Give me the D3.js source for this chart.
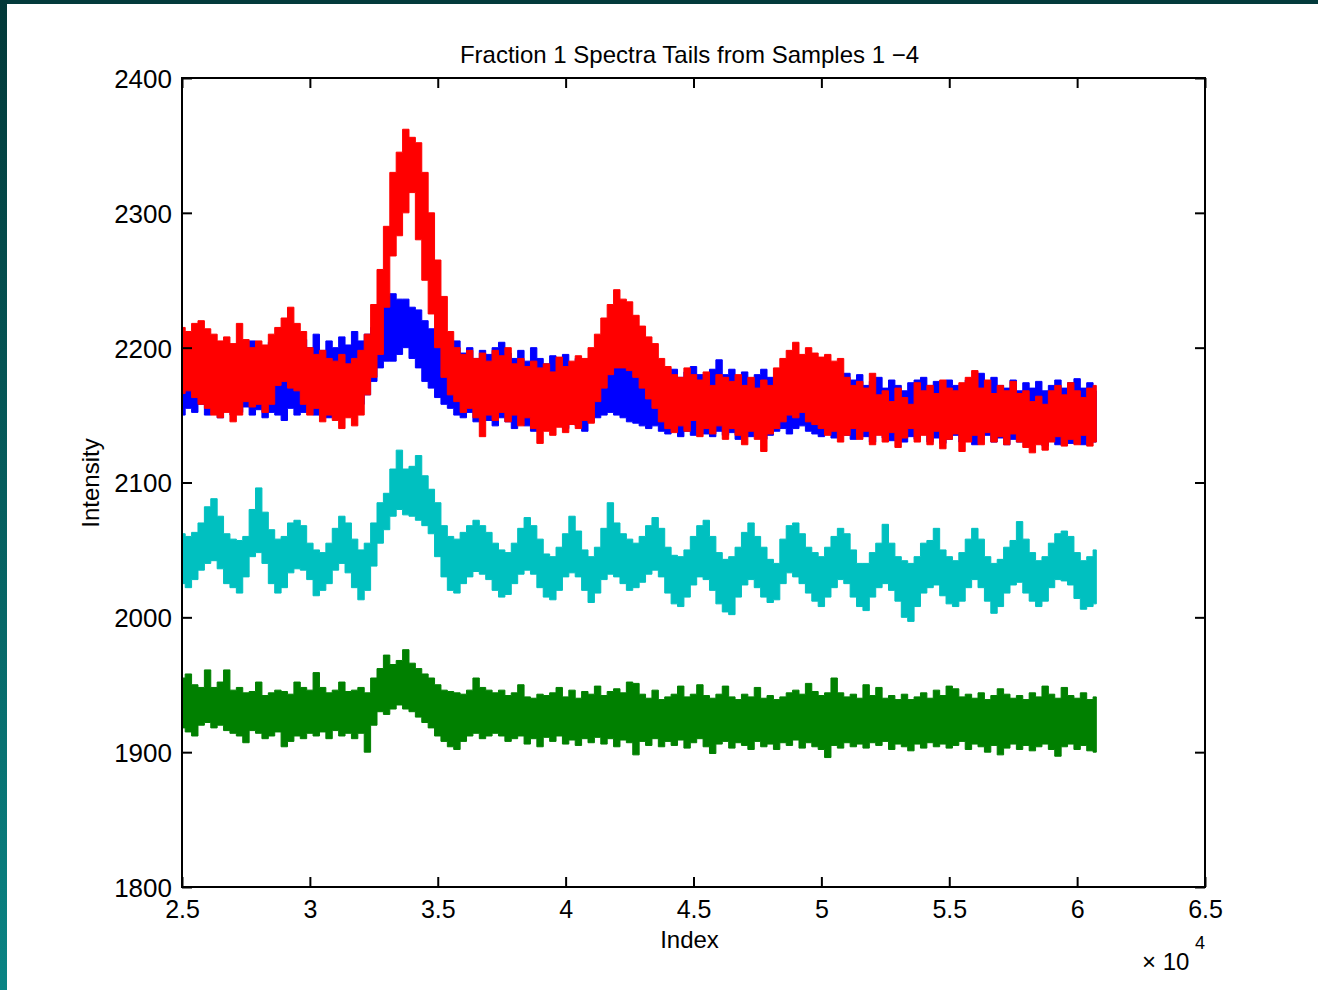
<!DOCTYPE html>
<html><head><meta charset="utf-8">
<script src="https://cdn.jsdelivr.net/npm/d3@7"></script>
<style>body{margin:0;background:#fff;overflow:hidden}svg{display:block}</style>
</head><body>
<svg id="c" width="1318" height="990"></svg>
<script>
// ---------- data ----------
const titleText = "Fraction 1 Spectra Tails from Samples 1 \u22124";
const xLabel = "Index";
const yLabel = "Intensity";
const xTickLabels = [2.5, 3, 3.5, 4, 4.5, 5, 5.5, 6, 6.5];   // x 10^4
const yTickLabels = [1800, 1900, 2000, 2100, 2200, 2300, 2400];
const indexStart = 25000, indexStep = 250;   // sampling grid of the envelope values

// Sample 1 (blue) min / max envelope
const blueLo = [2150,2155,2152,2158,2150,2156,2148,2155,2150,2152, 2156,2150,2154,2148,2152,2150,2146,2155,2150,2152,
 2156,2150,2154,2148,2152,2150,2156,2152,2158,2165, 2175,2185,2190,2190,2195,2200,2192,2185,2175,2170,
 2163,2158,2155,2150,2148,2152,2145,2150,2146,2142, 2148,2145,2140,2146,2142,2138,2144,2140,2146,2142,
 2140,2145,2142,2138,2145,2148,2150,2152,2150,2148, 2145,2144,2142,2140,2142,2138,2136,2140,2134,2138,
 2135,2140,2136,2134,2138,2135,2137,2132,2136,2134, 2138,2132,2135,2138,2140,2136,2140,2142,2138,2136,
 2134,2136,2133,2138,2135,2132,2136,2134,2130,2136, 2133,2131,2135,2130,2134,2132,2136,2130,2133,2129,
 2132,2135,2130,2133,2128,2132,2135,2130,2133,2128, 2132,2130,2134,2129,2132,2127,2131,2128,2132,2129,
 2133,2128,2131,2130];
const blueHi = [2195,2200,2192,2205,2198,2202,2195,2200,2196,2203, 2198,2205,2200,2196,2204,2198,2202,2200,2196,2206,
 2200,2210,2198,2205,2200,2208,2202,2212,2205,2210, 2215,2232,2238,2240,2236,2236,2230,2228,2220,2214,
 2205,2198,2195,2205,2196,2200,2192,2198,2195,2200, 2204,2196,2192,2198,2190,2200,2192,2188,2194,2190,
 2195,2188,2192,2186,2190,2185,2190,2188,2192,2185, 2188,2182,2186,2180,2178,2182,2180,2184,2178,2182,
 2186,2180,2178,2184,2191,2180,2184,2178,2182,2176, 2180,2184,2178,2176,2182,2178,2180,2176,2182,2175,
 2180,2176,2174,2178,2181,2176,2180,2172,2175,2178, 2170,2176,2172,2168,2174,2176,2178,2172,2175,2170,
 2176,2172,2168,2176,2172,2181,2174,2178,2172,2170, 2176,2168,2174,2170,2175,2168,2172,2176,2170,2174,
 2177,2170,2174,2168];

// Sample 2 (green)
const greenLo = [1918,1915,1912,1920,1922,1918,1920,1916,1914,1912, 1907,1916,1914,1910,1912,1915,1904,1908,1912,1910,
 1914,1912,1915,1910,1916,1912,1914,1910,1914,1900, 1920,1930,1928,1932,1935,1932,1930,1926,1922,1918,
 1912,1908,1904,1902,1908,1912,1914,1910,1912,1914, 1912,1908,1910,1912,1906,1910,1904,1911,1908,1912,
 1906,1909,1905,1910,1907,1911,1906,1910,1904,1909, 1907,1898,1908,1905,1910,1904,1908,1905,1909,1903,
 1907,1910,1904,1899,1906,1908,1903,1907,1905,1902, 1908,1904,1906,1902,1907,1905,1909,1903,1907,1904,
 1902,1896,1905,1903,1907,1904,1906,1903,1907,1905, 1908,1902,1906,1904,1901,1906,1903,1907,1904,1906,
 1903,1905,1908,1902,1906,1904,1900,1905,1898,1903, 1906,1902,1905,1901,1904,1906,1902,1897,1904,1906,
 1902,1905,1901,1900];
const greenHi = [1955,1958,1950,1948,1961,1948,1952,1961,1946,1948, 1944,1945,1952,1942,1944,1946,1945,1943,1952,1948,
 1946,1959,1948,1944,1946,1952,1945,1946,1948,1944, 1955,1962,1972,1965,1968,1976,1966,1962,1958,1955,
 1950,1946,1945,1944,1943,1946,1955,1948,1946,1944, 1946,1942,1944,1950,1941,1940,1943,1942,1944,1948,
 1941,1946,1940,1945,1943,1949,1942,1945,1947,1944, 1952,1951,1943,1940,1946,1939,1941,1943,1949,1941,
 1943,1950,1942,1940,1943,1949,1941,1939,1943,1941, 1948,1940,1942,1939,1941,1944,1946,1943,1951,1945,
 1942,1944,1955,1944,1941,1943,1940,1950,1942,1948, 1940,1942,1939,1943,1939,1941,1944,1940,1946,1942,
 1949,1947,1941,1943,1940,1944,1939,1942,1947,1943, 1940,1942,1939,1944,1941,1949,1943,1940,1948,1942,
 1940,1944,1939,1941];

// Sample 3 (red)
const redLo = [2166,2168,2163,2158,2155,2150,2148,2152,2145,2150, 2160,2156,2158,2152,2158,2172,2175,2170,2168,2158,
 2150,2155,2145,2150,2146,2140,2148,2142,2150,2165, 2178,2195,2230,2268,2283,2300,2315,2280,2250,2225,
 2200,2178,2165,2160,2152,2155,2148,2134,2150,2146, 2152,2145,2150,2142,2148,2140,2129,2138,2135,2141,
 2137,2143,2140,2146,2144,2160,2170,2180,2185,2185, 2183,2178,2170,2162,2155,2145,2140,2137,2142,2138,
 2146,2134,2140,2136,2142,2132,2140,2135,2128,2138, 2132,2123,2136,2140,2145,2150,2148,2152,2145,2143,
 2140,2135,2138,2130,2135,2140,2132,2138,2128,2135, 2130,2137,2126,2133,2140,2130,2135,2128,2138,2125,
 2132,2136,2123,2130,2135,2128,2137,2130,2134,2128, 2136,2130,2126,2122,2128,2124,2130,2134,2127,2132,
 2128,2135,2127,2130];
const redHi = [2215,2212,2218,2220,2214,2210,2205,2208,2203,2218, 2206,2200,2205,2202,2210,2215,2222,2230,2218,2212,
 2200,2195,2198,2192,2190,2195,2188,2192,2198,2210, 2232,2258,2290,2330,2345,2362,2356,2352,2330,2300,
 2265,2238,2212,2200,2195,2198,2192,2196,2190,2198, 2194,2200,2188,2192,2186,2190,2185,2188,2182,2193,
 2186,2190,2194,2192,2200,2210,2222,2232,2243,2236, 2234,2224,2216,2208,2203,2192,2186,2180,2178,2185,
 2180,2176,2182,2172,2180,2178,2175,2180,2172,2178, 2170,2176,2172,2185,2192,2198,2204,2195,2200,2196,
 2193,2195,2190,2192,2178,2172,2175,2170,2181,2165, 2168,2160,2170,2163,2158,2174,2168,2172,2166,2176,
 2170,2168,2174,2178,2183,2170,2176,2166,2172,2168, 2175,2166,2168,2160,2164,2158,2168,2172,2165,2174,
 2168,2163,2170,2172];

// Sample 4 (cyan)
const cyanLo = [2025,2022,2028,2035,2040,2042,2036,2025,2022,2018, 2030,2045,2048,2040,2025,2018,2022,2033,2036,2035,
 2028,2016,2020,2025,2035,2040,2033,2022,2013,2020, 2038,2055,2065,2075,2080,2076,2075,2072,2068,2062,
 2045,2030,2020,2018,2025,2030,2034,2032,2028,2020, 2015,2017,2025,2032,2035,2032,2022,2015,2013,2020,
 2030,2033,2030,2020,2011,2018,2028,2032,2030,2025, 2020,2022,2026,2032,2035,2030,2018,2010,2008,2015,
 2024,2030,2028,2020,2010,2004,2002,2015,2024,2028, 2022,2015,2011,2013,2025,2033,2030,2025,2018,2012,
 2008,2015,2022,2028,2025,2015,2008,2005,2015,2022, 2025,2020,2012,2000,1997,2008,2018,2022,2024,2016,
 2010,2008,2012,2022,2028,2022,2012,2003,2008,2018, 2024,2026,2018,2012,2008,2012,2022,2028,2027,2024,
 2014,2006,2008,2010];
const cyanHi = [2062,2060,2063,2070,2082,2088,2075,2062,2058,2057, 2060,2080,2096,2078,2065,2058,2060,2070,2072,2068,
 2055,2050,2048,2055,2066,2075,2070,2058,2050,2055, 2070,2085,2092,2110,2124,2110,2112,2120,2105,2095,
 2085,2068,2060,2058,2063,2068,2072,2068,2063,2055, 2050,2048,2055,2066,2074,2068,2058,2047,2045,2052,
 2062,2075,2064,2050,2045,2052,2066,2085,2070,2062, 2058,2055,2060,2068,2074,2066,2052,2046,2045,2050,
 2060,2068,2072,2060,2048,2043,2045,2052,2063,2070, 2060,2052,2043,2040,2058,2068,2070,2062,2052,2048,
 2045,2052,2060,2066,2062,2050,2040,2040,2048,2055, 2069,2055,2045,2042,2040,2045,2055,2057,2066,2050,
 2045,2042,2048,2058,2066,2058,2045,2040,2043,2052, 2057,2071,2058,2048,2042,2045,2055,2062,2064,2060,
 2048,2042,2045,2050];

// ---------- chart ----------
const W = 1318, H = 990;
const box = {left: 182, right: 1205, top: 78, bottom: 887};
const FONT = "'Liberation Sans', Arial, Helvetica, sans-serif";

const svg = d3.select("#c");
const defs = svg.append("defs");
const grad = defs.append("linearGradient").attr("id", "edge")
  .attr("x1", 0).attr("y1", 0).attr("x2", 0).attr("y2", 1);
grad.append("stop").attr("offset", "0%").attr("stop-color", "#023838");
grad.append("stop").attr("offset", "100%").attr("stop-color", "#0a8484");

svg.append("rect").attr("width", W).attr("height", H).attr("fill", "#fff");
svg.append("rect").attr("x", 0).attr("y", 0).attr("width", W).attr("height", 4).attr("fill", "#033a3b");
svg.append("rect").attr("x", 0).attr("y", 0).attr("width", 7).attr("height", H).attr("fill", "url(#edge)");

const x = d3.scaleLinear().domain([xTickLabels[0] * 1e4, xTickLabels[xTickLabels.length - 1] * 1e4])
  .range([box.left, box.right]);
const y = d3.scaleLinear().domain([yTickLabels[0], yTickLabels[yTickLabels.length - 1]])
  .range([box.bottom, box.top]);

const series = [
  {lo: blueLo, hi: blueHi, color: "#0000ff"},
  {lo: greenLo, hi: greenHi, color: "#008000"},
  {lo: redLo, hi: redHi, color: "#ff0000"},
  {lo: cyanLo, hi: cyanHi, color: "#00c0c0"}
];

const area = d3.area()
  .x(d => x(d.idx))
  .y0(d => y(d.lo))
  .y1(d => y(d.hi))
  .curve(d3.curveStep);

series.forEach(s => {
  const pts = s.lo.map((v, i) => ({idx: indexStart + i * indexStep, lo: v, hi: s.hi[i]}));
  svg.append("path").datum(pts)
    .attr("d", area)
    .attr("fill", s.color)
    .attr("stroke", s.color)
    .attr("stroke-width", 1);
});

// axes (ticks inside on all four sides, MATLAB style)
function styleAxis(g) {
  g.select(".domain").remove();
  g.selectAll(".tick line").attr("stroke", "#000").attr("stroke-width", 2);
  g.selectAll(".tick text").attr("fill", "#000")
    .style("font-family", FONT).style("font-size", "25px");
}
const xVals = xTickLabels.map(v => v * 1e4);
svg.append("g").attr("transform", `translate(0,${box.bottom})`)
  .call(d3.axisBottom(x).tickValues(xVals).tickSizeInner(-10).tickSizeOuter(0).tickPadding(13)
    .tickFormat(d => String(d / 1e4)))
  .call(styleAxis);
svg.append("g").attr("transform", `translate(0,${box.top})`)
  .call(d3.axisTop(x).tickValues(xVals).tickSizeInner(-10).tickSizeOuter(0).tickFormat(""))
  .call(styleAxis);
svg.append("g").attr("transform", `translate(${box.left},0)`)
  .call(d3.axisLeft(y).tickValues(yTickLabels).tickSizeInner(-10).tickSizeOuter(0).tickPadding(10)
    .tickFormat(d => String(d)))
  .call(styleAxis)
  .selectAll(".tick text").attr("dy", "0.36em").style("font-size", "26px");
svg.append("g").attr("transform", `translate(${box.right},0)`)
  .call(d3.axisRight(y).tickValues(yTickLabels).tickSizeInner(-10).tickSizeOuter(0).tickFormat(""))
  .call(styleAxis);

svg.append("rect").attr("x", box.left).attr("y", box.top)
  .attr("width", box.right - box.left).attr("height", box.bottom - box.top)
  .attr("fill", "none").attr("stroke", "#000").attr("stroke-width", 2);

// texts
const midX = (box.left + box.right) / 2 - 4;
svg.append("text").attr("x", midX).attr("y", 63).attr("text-anchor", "middle")
  .style("font-family", FONT).style("font-size", "24px").text(titleText);
svg.append("text").attr("x", midX).attr("y", 948).attr("text-anchor", "middle")
  .style("font-family", FONT).style("font-size", "24px").text(xLabel);
svg.append("text").attr("transform", "translate(99,483) rotate(-90)").attr("text-anchor", "middle")
  .style("font-family", FONT).style("font-size", "24px").text(yLabel);
const ex = svg.append("text").attr("x", 1142).attr("y", 970)
  .style("font-family", FONT).style("font-size", "24px");
ex.append("tspan").text("\u00d7 10");
svg.append("text").attr("x", 1195).attr("y", 949)
  .style("font-family", FONT).style("font-size", "18px").text("4");
</script>
</body></html>
